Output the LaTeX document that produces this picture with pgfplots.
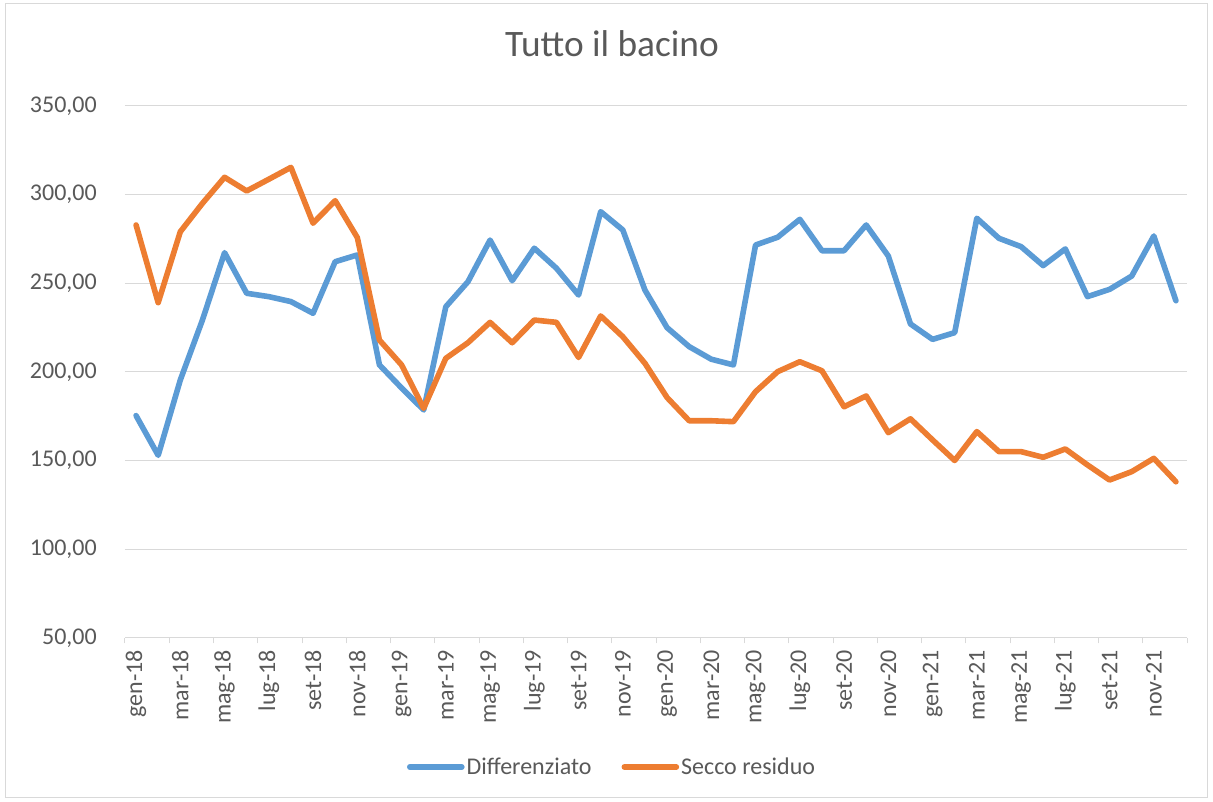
\documentclass[border=0pt]{standalone}
\usepackage{pgfplots}
\pgfplotsset{compat=1.18}
\usepackage{pgfplotstable}
\usepackage{fontspec}
\setmainfont{Carlito}
\definecolor{cblue}{HTML}{5B9BD5}
\definecolor{corange}{HTML}{ED7D31}
\definecolor{ctext}{HTML}{595959}
\definecolor{cgrid}{HTML}{D9D9D9}

\pgfplotstableread{
x y
0 175.4
1 153.0
2 195.5
3 229.3
4 267.3
5 244.4
6 242.5
7 239.7
8 233.1
9 262.2
10 266.0
11 204.0
12 191.0
13 178.6
14 236.8
15 250.9
16 274.4
17 251.5
18 269.8
19 258.5
20 243.4
21 290.4
22 280.1
23 246.2
24 225.0
25 214.3
26 207.2
27 204.0
28 271.6
29 276.0
30 286.1
31 268.4
32 268.4
33 282.9
34 265.4
35 227.1
36 218.4
37 222.2
38 286.7
39 275.4
40 270.7
41 260.0
42 269.4
43 242.5
44 246.6
45 254.1
46 276.7
47 240.2
}\diff

\pgfplotstableread{
x y
0 282.9
1 239.1
2 279.1
3 295.1
4 309.8
5 302.1
6 308.7
7 315.4
8 283.9
9 296.6
10 275.8
11 218.0
12 204.0
13 179.5
14 207.7
15 216.5
16 228.0
17 216.5
18 229.3
19 228.0
20 208.2
21 231.6
22 219.9
23 204.9
24 185.6
25 172.5
26 172.5
27 172.0
28 188.9
29 200.2
30 205.8
31 200.7
32 180.4
33 186.5
34 165.8
35 173.6
36 161.7
37 150.1
38 166.4
39 155.1
40 155.1
41 151.9
42 156.6
43 147.6
44 139.1
45 143.8
46 151.3
47 138.1
}\secco

\begin{document}
\begin{tikzpicture}
\begin{axis}[
  at={(0pt,0pt)}, anchor=south west,
  scale only axis,
  width=796.5pt, height=399pt,
  xmin=-0.5, xmax=47.5,
  ymin=50, ymax=350,
  ytick={50,100,...,350},
  xtick={0,2,...,46},
  xticklabels={gen-18,mar-18,mag-18,lug-18,set-18,nov-18,gen-19,mar-19,mag-19,lug-19,set-19,nov-19,gen-20,mar-20,mag-20,lug-20,set-20,nov-20,gen-21,mar-21,mag-21,lug-21,set-21,nov-21},
  minor xtick={-0.5,1.5,...,47.5},
  major tick length=0pt,
  minor tick length=4pt,
  tick align=outside,
  minor tick style={cgrid, line width=0.75pt},
  axis x line*=bottom,
  axis y line*=left,
  y axis line style={draw=none},
  x axis line style={cgrid, line width=0.75pt},
  ymajorgrids,
  grid style={cgrid, line width=0.75pt},
  /pgf/number format/.cd, fixed, fixed zerofill, precision=2, use comma, assume math mode=true,
  /pgfplots/.cd,
  yticklabel style={font=\fontsize{18}{21.6}\selectfont, text=ctext, anchor=east, inner sep=0pt, xshift=-21pt},
  xticklabel style={yshift=-9pt, rotate=90, font=\fontsize{18}{21.6}\selectfont, text=ctext, anchor=east, inner sep=0pt},
  title={Tutto il bacino},
  title style={font=\fontsize{28}{33}\selectfont, text=ctext, at={(0.4586,1)}, anchor=center, yshift=40.5pt},
  legend columns=2,
  legend style={draw=none, fill=none, at={(0.4586,0)}, anchor=center, yshift=-96.75pt,
    font=\fontsize{18}{21.6}\selectfont, text=ctext, column sep=0pt,
    nodes={inner sep=1.5pt},
    /tikz/every even column/.append style={column sep=21pt}},
  legend image code/.code={\draw[#1, line width=4.2pt, line cap=round] (0pt,0pt) -- (39pt,0pt);},
  clip=false,
]
\addplot[cblue, line width=4.2pt, line join=round, line cap=round] table[x=x,y=y] {\diff};
\addlegendentry{Differenziato}
\addplot[corange, line width=4.2pt, line join=round, line cap=round] table[x=x,y=y] {\secco};
\addlegendentry{Secco residuo}
\end{axis}
\draw[cgrid, line width=0.75pt] (-89.25pt,-120pt) rectangle (811.5pt,475.5pt);
\pgfresetboundingbox
\useasboundingbox (-93.75pt,-123pt) rectangle (816pt,478.5pt);
\end{tikzpicture}
\end{document}
